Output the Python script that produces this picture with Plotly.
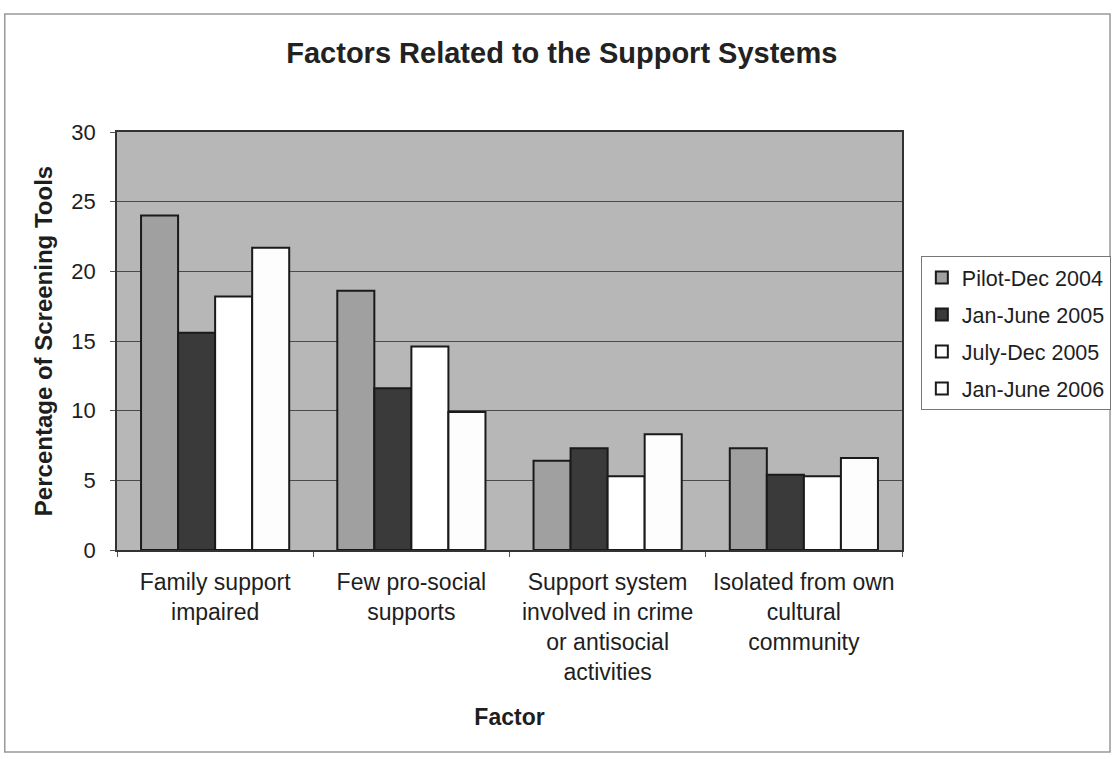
import plotly.graph_objects as go

categories = [
    "Family support<br>impaired",
    "Few pro-social<br>supports",
    "Support system<br>involved in crime<br>or antisocial<br>activities",
    "Isolated from own<br>cultural<br>community",
]
series_names = ["Pilot-Dec 2004", "Jan-June 2005", "July-Dec 2005", "Jan-June 2006"]
pilot_dec_2004 = [24.0, 18.6, 6.4, 7.3]
jan_june_2005 = [15.6, 11.6, 7.3, 5.4]
july_dec_2005 = [18.2, 14.6, 5.3, 5.3]
jan_june_2006 = [21.7, 9.9, 8.3, 6.6]
y_ticks = [0, 5, 10, 15, 20, 25, 30]

series_values = [pilot_dec_2004, jan_june_2005, july_dec_2005, jan_june_2006]
fills = ["#a0a0a0", "#3a3a3a", "#ffffff", "#fdfdfd"]

font_family = "Liberation Sans, Arial, sans-serif"

fig = go.Figure()
for i, (name, vals, col) in enumerate(zip(series_names, series_values, fills)):
    fig.add_trace(go.Bar(
        x=categories, y=vals, name=name,
        marker=dict(color=col, line=dict(color="#1a1a1a", width=2)),
        legendgroup=f"g{i}",
    ))

fig.update_layout(
    width=1117, height=759,
    margin=dict(l=117, r=215, t=132, b=209, autoexpand=False),
    paper_bgcolor="white",
    plot_bgcolor="#b7b7b7",
    barmode="group",
    bargap=0.245,
    bargroupgap=0,
    font=dict(family=font_family, color="#1e1e1e", size=22),
    title=dict(
        text="<b>Factors Related to the Support Systems</b>",
        x=0.503, xanchor="center", y=0.931, yanchor="middle",
        font=dict(size=29, family=font_family, color="#222"),
    ),
    showlegend=True,
    legend=dict(
        x=1.024, xanchor="left", y=0.703, yanchor="top",
        bordercolor="#777", borderwidth=1, bgcolor="white",
        font=dict(size=21.5, family=font_family),
        traceorder="grouped", tracegroupgap=6,
        itemwidth=30,
    ),
    xaxis=dict(
        title=dict(text="<b>Factor</b>", font=dict(size=23), standoff=25),
        showline=True, linecolor="#333", linewidth=1.5,
        ticks="outside", ticklen=5, tickcolor="#555",
        tickson="boundaries",
        ticklabelstandoff=11,
        tickfont=dict(size=23),
        mirror=True,
    ),
    yaxis=dict(
        title=dict(text="<b>Percentage of Screening Tools</b>", font=dict(size=24), standoff=12),
        range=[0, 30], tickvals=y_ticks,
        showgrid=True, gridcolor="#4a4a4a", gridwidth=1,
        showline=True, linecolor="#333", linewidth=1.5,
        ticks="outside", ticklen=5, tickcolor="#555",
        ticklabelstandoff=10,
        tickfont=dict(size=22),
        mirror=True, zeroline=False,
    ),
    shapes=[dict(
        type="rect", xref="paper", yref="paper",
        x0=-0.143, x1=1.265, y0=-0.483, y1=1.282,
        line=dict(color="#999", width=1.5), layer="below",
    )],
)

fig.write_html("out.html")
